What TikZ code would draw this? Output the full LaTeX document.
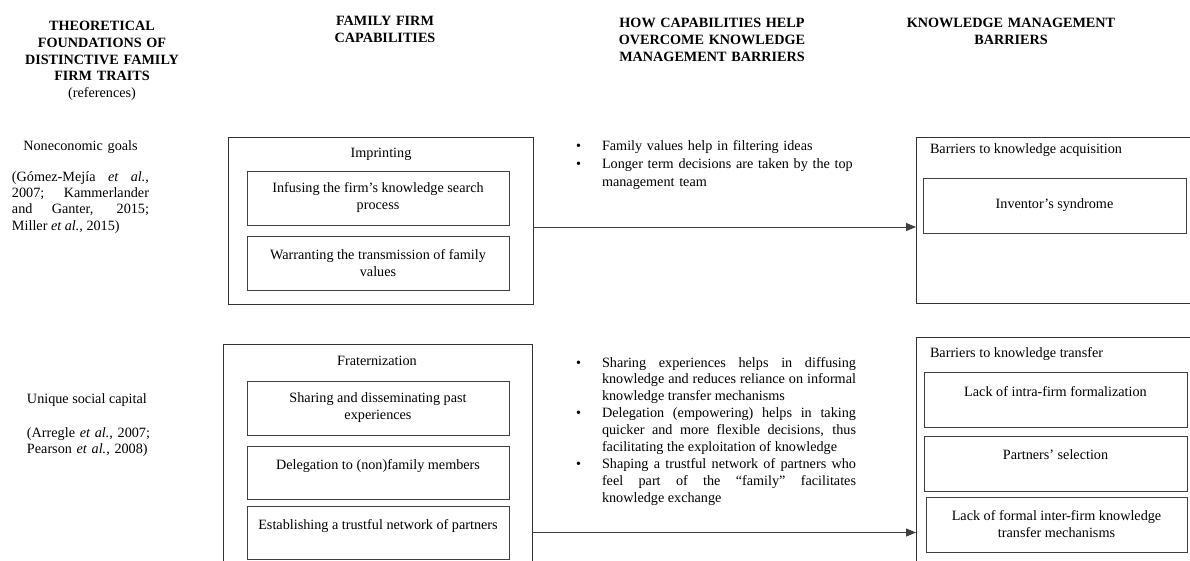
\documentclass[tikz,border=0pt]{standalone}
\usepackage{fontspec}
\setmainfont{Liberation Serif}
\usetikzlibrary{arrows.meta}
\begin{document}
\begin{tikzpicture}[x=1pt,y=-1pt,
  every node/.style={inner sep=0pt, outer sep=0pt},
  hdr/.style={font=\fontsize{14.2}{16.7}\selectfont\bfseries, align=center, anchor=base},
  txt/.style={font=\fontsize{14.2}{16.6}\selectfont},
  bullet/.style={txt, anchor=base west},
  itemtxt/.style={txt, text width=254, anchor=base west},
  obox/.style={draw=black!80, line width=1pt, anchor=north west},
  ibox/.style={draw=black!75, line width=1pt, anchor=north west, align=center,
               font=\fontsize{14.2}{17}\selectfont},
  arr/.style={draw=black!75, line width=1pt, -{Triangle[length=10pt,width=8pt]}},
]
\useasboundingbox (0,0) rectangle (1190,560);
\clip (0,0) rectangle (1190,560);

% column headings
\node[hdr, text width=180] (h1) at (102,30.7)
  {THEORETICAL\\FOUNDATIONS OF\\DISTINCTIVE FAMILY\\FIRM TRAITS\\\mdseries(references)};
\node[hdr, text width=170] (h2) at (385,25.7) {FAMILY FIRM\\CAPABILITIES};
\node[hdr, text width=210] (h3) at (712,27.7) {HOW CAPABILITIES HELP\\OVERCOME KNOWLEDGE\\MANAGEMENT BARRIERS};
\node[hdr, text width=230] (h4) at (1011,27.7) {KNOWLEDGE MANAGEMENT\\BARRIERS};

% theoretical foundations
\node[txt, text width=137, align=center, anchor=base] (g1) at (80.5,150) {Noneconomic goals};
\node[txt, text width=137, align=justify, anchor=base west,
      font=\fontsize{14.2}{16.4}\selectfont] (r1) at (12,181)
  {(Gómez-Mejía \emph{et al.},\linebreak 2007; Kammerlander\linebreak and Ganter, 2015;\linebreak Miller \emph{et al.}, 2015)};
\node[txt, anchor=base west] (g2) at (27,403) {Unique social capital};
\node[txt, text width=140, align=left, anchor=base west] (r2) at (27,437)
  {(Arregle \emph{et al.}, 2007;\newline Pearson \emph{et al.}, 2008)};

% imprinting
\node[obox, minimum width=305, minimum height=167] (imp) at (228,137) {};
\node[txt, anchor=base] (impt) at (381,157) {Imprinting};
\node[ibox, minimum width=262, minimum height=54] (i1) at (247,171) {Infusing the firm’s knowledge search\\process};
\node[ibox, minimum width=262, minimum height=54] (i2) at (247,236) {Warranting the transmission of family\\values};

% fraternization
\node[obox, minimum width=309, minimum height=260] (frat) at (223,344) {};
\node[txt, anchor=base] (fratt) at (377,365) {Fraternization};
\node[ibox, minimum width=262, minimum height=54] (f1) at (247,381) {Sharing and disseminating past\\experiences};
\node[ibox, minimum width=262, minimum height=53] (f2) at (247,446) {Delegation to (non)family members\\\mbox{}};
\node[ibox, minimum width=262, minimum height=53] (f3) at (247,506) {Establishing a trustful network of partners\\\mbox{}};

% how capabilities help: first group
\node[bullet] (b1) at (576,150) {\textbullet};
\node[itemtxt, align=left, font=\fontsize{14.2}{18}\selectfont] (e1) at (602,150)
  {Family values help in filtering ideas};
\node[bullet] (b2) at (576,168) {\textbullet};
\node[itemtxt, align=left, font=\fontsize{14.2}{18}\selectfont] (e2) at (602,168)
  {Longer term decisions are taken by the top\newline management team};

% how capabilities help: second group
\node[bullet] (b3) at (576,367) {\textbullet};
\node[itemtxt, align=justify, font=\fontsize{14.2}{16.9}\selectfont] (e3) at (602,367)
  {Sharing experiences helps in diffusing\linebreak knowledge and reduces reliance on informal\linebreak knowledge transfer mechanisms};
\node[bullet] (b4) at (576,417.7) {\textbullet};
\node[itemtxt, align=justify, font=\fontsize{14.2}{16.9}\selectfont] (e4) at (602,417.7)
  {Delegation (empowering) helps in taking\linebreak quicker and more flexible decisions, thus\linebreak facilitating the exploitation of knowledge};
\node[bullet] (b5) at (576,468.4) {\textbullet};
\node[itemtxt, align=justify, font=\fontsize{14.2}{16.9}\selectfont] (e5) at (602,468.4)
  {Shaping a trustful network of partners who\linebreak feel part of the “family” facilitates\linebreak knowledge exchange};

% knowledge management barriers
\node[obox, minimum width=290, minimum height=166] (bacq) at (916,137) {};
\node[txt, anchor=base west] (bacqt) at (930,153) {Barriers to knowledge acquisition};
\node[ibox, minimum width=263, minimum height=55] (inv) at (923,178) {Inventor’s syndrome};

\node[obox, minimum width=290, minimum height=260] (btr) at (916,337) {};
\node[txt, anchor=base west] (btrt) at (930,357) {Barriers to knowledge transfer};
\node[ibox, minimum width=263, minimum height=55] (t1) at (924,372) {Lack of intra-firm formalization\\\mbox{}};
\node[ibox, minimum width=263, minimum height=55] (t2) at (924,436) {Partners’ selection\\\mbox{}};
\node[ibox, minimum width=261, minimum height=55] (t3) at (926,497) {Lack of formal inter-firm knowledge\\transfer mechanisms};

% connectors
\coordinate (lv1) at (0,227);
\coordinate (lv2) at (0,532.5);
\draw[arr] (imp.east |- lv1) -- (bacq.west |- lv1);
\draw[arr] (frat.east |- lv2) -- (btr.west |- lv2);
\end{tikzpicture}
\end{document}
